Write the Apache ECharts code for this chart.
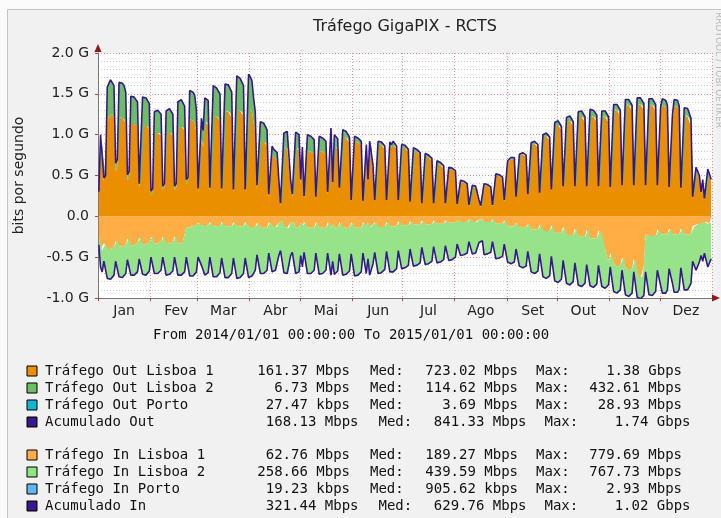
<!DOCTYPE html>
<html>
<head>
<meta charset="utf-8">
<title>Tráfego GigaPIX - RCTS</title>
<script src="https://cdn.jsdelivr.net/npm/echarts@6/dist/echarts.min.js"></script>
<style>
    html, body { margin: 0; padding: 0; background: #fbfbfb; }
    #chart { width: 721px; height: 518px; }
</style>
</head>
<body>
<div id="chart"></div>
<script>
// nomes dos meses no eixo X
const monthNames = ['Jan', 'Fev', 'Mar', 'Abr', 'Mai', 'Jun', 'Jul', 'Ago', 'Set', 'Out', 'Nov', 'Dez'];
const yTicks = [-1, -0.5, 0, 0.5, 1, 1.5, 2];

// valores diarios em Gbps, 2014-01-01 .. 2014-12-31 (uma semana por linha, seg..dom)
const outLisboa1 = [0.27,0.88,0.88,0.43,0.45,
    1.18,1.22,1.24,1.25,1.20,0.55,0.60,
    1.21,1.22,1.21,1.19,1.14,0.44,0.48,
    1.13,1.13,1.13,1.12,1.10,0.34,0.36,
    1.11,1.11,1.11,1.10,1.07,0.26,0.29,
    1.01,1.01,1.02,1.02,0.99,0.32,0.35,
    1.01,1.02,1.03,1.02,0.99,0.32,0.35,
    1.08,1.09,1.10,1.09,1.05,0.39,0.42,
    1.19,1.18,1.17,1.14,1.02,0.29,0.31,
    0.95,0.85,1.15,1.16,1.12,0.30,0.32,
    1.24,1.23,1.22,1.21,1.17,0.29,0.31,
    1.28,1.29,1.28,1.27,1.21,0.28,0.30,
    1.31,1.30,1.29,1.28,1.23,0.28,0.30,
    1.33,1.31,1.28,1.15,1.03,0.33,0.34,
    0.93,0.92,0.92,0.90,0.86,0.23,0.24,
    0.76,0.72,0.70,0.69,0.40,0.13,0.14,
    0.82,0.84,0.84,0.83,0.39,0.24,0.25,
    0.83,0.84,0.81,0.39,0.70,0.22,0.23,
    0.80,0.79,0.79,0.78,0.76,0.21,0.22,
    0.80,0.79,0.79,0.78,0.76,0.27,0.28,
    0.93,0.38,0.86,0.85,0.82,0.32,0.33,
    0.98,0.97,0.96,0.95,0.90,0.18,0.19,
    0.92,0.91,0.90,0.89,0.87,0.17,0.18,
    0.83,0.42,0.87,0.88,0.58,0.18,0.18,
    0.88,0.88,0.87,0.86,0.82,0.18,0.19,
    0.87,0.84,0.88,0.87,0.82,0.18,0.18,
    0.85,0.84,0.84,0.83,0.79,0.16,0.17,
    0.81,0.80,0.79,0.78,0.75,0.14,0.15,
    0.74,0.73,0.72,0.71,0.68,0.14,0.14,
    0.65,0.64,0.63,0.62,0.59,0.14,0.14,
    0.58,0.58,0.57,0.56,0.54,0.13,0.13,
    0.42,0.41,0.41,0.40,0.38,0.12,0.12,
    0.36,0.36,0.35,0.34,0.18,0.11,0.12,
    0.38,0.38,0.37,0.36,0.34,0.12,0.13,
    0.50,0.50,0.49,0.48,0.46,0.18,0.18,
    0.66,0.68,0.70,0.72,0.70,0.22,0.23,
    0.74,0.75,0.76,0.77,0.73,0.25,0.26,
    0.87,0.88,0.89,0.89,0.85,0.27,0.28,
    0.96,0.97,0.98,0.98,0.93,0.31,0.32,
    1.10,1.11,1.12,1.11,1.05,0.35,0.36,
    1.15,1.16,1.17,1.16,1.10,0.35,0.36,
    1.21,1.22,1.22,1.21,1.15,0.35,0.36,
    1.23,1.23,1.22,1.21,1.16,0.35,0.36,
    1.22,1.23,1.22,1.21,1.15,0.34,0.35,
    1.30,1.31,1.30,1.29,1.23,0.36,0.37,
    1.36,1.37,1.36,1.35,1.29,0.36,0.37,
    1.37,1.38,1.37,1.36,1.30,0.36,0.38,
    1.36,1.37,1.36,1.35,1.29,0.36,0.37,
    1.27,1.36,1.36,1.34,1.28,0.34,0.35,
    1.17,1.35,1.36,1.34,1.27,0.33,0.34,
    1.23,1.24,1.22,1.20,1.10,0.22,0.23,
    0.58,0.58,0.48,0.28,0.43,0.20,0.20,
    0.56,0.55,0.43];

const outLisboa2 = [0.03,0.12,0.14,0.04,0.05,
    0.40,0.41,0.43,0.43,0.40,0.10,0.10,
    0.43,0.43,0.42,0.41,0.38,0.07,0.07,
    0.34,0.34,0.33,0.33,0.30,0.06,0.06,
    0.35,0.35,0.34,0.34,0.31,0.05,0.05,
    0.27,0.28,0.28,0.28,0.26,0.05,0.05,
    0.28,0.29,0.29,0.29,0.26,0.05,0.05,
    0.32,0.32,0.33,0.33,0.30,0.06,0.06,
    0.35,0.35,0.35,0.34,0.28,0.05,0.05,
    0.25,0.20,0.30,0.31,0.30,0.05,0.05,
    0.36,0.35,0.35,0.35,0.33,0.05,0.05,
    0.34,0.34,0.33,0.33,0.31,0.05,0.05,
    0.41,0.40,0.40,0.40,0.37,0.05,0.05,
    0.41,0.40,0.38,0.30,0.25,0.05,0.05,
    0.23,0.23,0.22,0.22,0.20,0.04,0.04,
    0.10,0.10,0.10,0.09,0.05,0.03,0.03,
    0.20,0.20,0.20,0.20,0.06,0.03,0.03,
    0.20,0.20,0.19,0.06,0.15,0.03,0.03,
    0.20,0.20,0.19,0.19,0.18,0.03,0.03,
    0.18,0.18,0.17,0.17,0.16,0.03,0.03,
    0.15,0.04,0.14,0.14,0.13,0.03,0.03,
    0.08,0.08,0.08,0.07,0.07,0.02,0.02,
    0.06,0.06,0.06,0.06,0.05,0.02,0.02,
    0.05,0.03,0.05,0.05,0.04,0.02,0.02,
    0.04,0.04,0.04,0.04,0.04,0.02,0.02,
    0.04,0.04,0.04,0.04,0.04,0.02,0.02,
    0.03,0.03,0.03,0.03,0.03,0.02,0.02,
    0.03,0.03,0.03,0.03,0.03,0.02,0.02,
    0.03,0.03,0.03,0.03,0.03,0.02,0.02,
    0.03,0.03,0.03,0.03,0.03,0.02,0.02,
    0.02,0.02,0.02,0.02,0.02,0.02,0.02,
    0.02,0.02,0.02,0.02,0.02,0.02,0.02,
    0.02,0.02,0.02,0.02,0.02,0.02,0.02,
    0.02,0.02,0.02,0.02,0.02,0.02,0.02,
    0.02,0.02,0.02,0.02,0.02,0.02,0.02,
    0.02,0.02,0.02,0.02,0.02,0.02,0.02,
    0.02,0.02,0.02,0.02,0.02,0.02,0.02,
    0.03,0.03,0.03,0.03,0.03,0.02,0.02,
    0.04,0.04,0.04,0.04,0.04,0.02,0.02,
    0.05,0.05,0.05,0.05,0.05,0.02,0.02,
    0.06,0.06,0.06,0.06,0.06,0.02,0.02,
    0.07,0.07,0.07,0.07,0.07,0.02,0.02,
    0.08,0.08,0.08,0.08,0.08,0.02,0.02,
    0.07,0.07,0.07,0.07,0.07,0.02,0.02,
    0.07,0.07,0.07,0.07,0.07,0.02,0.02,
    0.07,0.07,0.07,0.07,0.07,0.02,0.02,
    0.08,0.08,0.08,0.08,0.08,0.02,0.02,
    0.08,0.08,0.08,0.08,0.08,0.02,0.02,
    0.08,0.08,0.08,0.08,0.08,0.02,0.02,
    0.08,0.08,0.08,0.08,0.08,0.02,0.02,
    0.10,0.10,0.10,0.10,0.10,0.02,0.02,
    0.02,0.02,0.02,0.02,0.02,0.02,0.02,
    0.02,0.02,0.02];

const inLisboa1 = [-0.25,-0.40,-0.42,-0.33,-0.33,
    -0.40,-0.41,-0.40,-0.40,-0.38,-0.30,-0.28,
    -0.37,-0.38,-0.37,-0.37,-0.35,-0.27,-0.26,
    -0.36,-0.36,-0.35,-0.35,-0.33,-0.26,-0.25,
    -0.35,-0.35,-0.34,-0.34,-0.32,-0.25,-0.24,
    -0.34,-0.34,-0.33,-0.33,-0.31,-0.25,-0.24,
    -0.34,-0.34,-0.33,-0.33,-0.31,-0.25,-0.24,
    -0.34,-0.34,-0.33,-0.30,-0.22,-0.14,-0.12,
    -0.13,-0.13,-0.12,-0.12,-0.11,-0.08,-0.08,
    -0.11,-0.10,-0.12,-0.12,-0.11,-0.07,-0.07,
    -0.12,-0.12,-0.12,-0.12,-0.12,-0.07,-0.07,
    -0.12,-0.12,-0.12,-0.12,-0.12,-0.07,-0.07,
    -0.12,-0.12,-0.12,-0.12,-0.12,-0.07,-0.07,
    -0.13,-0.13,-0.13,-0.13,-0.13,-0.08,-0.08,
    -0.14,-0.14,-0.14,-0.14,-0.14,-0.07,-0.07,
    -0.13,-0.13,-0.13,-0.13,-0.08,-0.06,-0.06,
    -0.14,-0.14,-0.14,-0.14,-0.08,-0.07,-0.07,
    -0.14,-0.14,-0.14,-0.08,-0.12,-0.07,-0.07,
    -0.14,-0.14,-0.14,-0.14,-0.14,-0.07,-0.07,
    -0.14,-0.14,-0.14,-0.14,-0.14,-0.07,-0.07,
    -0.14,-0.09,-0.14,-0.14,-0.13,-0.07,-0.07,
    -0.14,-0.14,-0.14,-0.14,-0.14,-0.07,-0.07,
    -0.14,-0.14,-0.14,-0.14,-0.14,-0.07,-0.07,
    -0.13,-0.08,-0.13,-0.13,-0.10,-0.07,-0.07,
    -0.13,-0.13,-0.13,-0.13,-0.13,-0.07,-0.07,
    -0.12,-0.12,-0.12,-0.12,-0.12,-0.06,-0.06,
    -0.11,-0.11,-0.11,-0.11,-0.11,-0.06,-0.06,
    -0.10,-0.10,-0.10,-0.10,-0.10,-0.05,-0.05,
    -0.10,-0.10,-0.10,-0.10,-0.10,-0.05,-0.05,
    -0.09,-0.09,-0.09,-0.09,-0.09,-0.05,-0.05,
    -0.08,-0.08,-0.08,-0.08,-0.08,-0.05,-0.05,
    -0.07,-0.07,-0.07,-0.07,-0.07,-0.04,-0.04,
    -0.07,-0.07,-0.07,-0.07,-0.04,-0.04,-0.04,
    -0.07,-0.07,-0.07,-0.07,-0.07,-0.04,-0.04,
    -0.09,-0.09,-0.09,-0.09,-0.09,-0.05,-0.05,
    -0.12,-0.12,-0.12,-0.12,-0.12,-0.08,-0.08,
    -0.14,-0.14,-0.14,-0.14,-0.14,-0.09,-0.09,
    -0.16,-0.16,-0.16,-0.16,-0.16,-0.10,-0.10,
    -0.18,-0.18,-0.18,-0.18,-0.18,-0.11,-0.11,
    -0.20,-0.20,-0.20,-0.20,-0.20,-0.13,-0.13,
    -0.23,-0.23,-0.23,-0.23,-0.23,-0.15,-0.15,
    -0.25,-0.25,-0.25,-0.25,-0.25,-0.16,-0.16,
    -0.27,-0.27,-0.27,-0.27,-0.27,-0.17,-0.17,
    -0.28,-0.30,-0.40,-0.50,-0.55,-0.45,-0.45,
    -0.58,-0.60,-0.62,-0.62,-0.60,-0.50,-0.50,
    -0.62,-0.64,-0.66,-0.66,-0.64,-0.52,-0.52,
    -0.72,-0.74,-0.76,-0.74,-0.60,-0.22,-0.22,
    -0.24,-0.24,-0.24,-0.24,-0.24,-0.16,-0.16,
    -0.22,-0.22,-0.22,-0.22,-0.22,-0.15,-0.15,
    -0.22,-0.22,-0.22,-0.22,-0.22,-0.15,-0.15,
    -0.22,-0.22,-0.22,-0.22,-0.22,-0.12,-0.12,
    -0.10,-0.10,-0.10,-0.08,-0.08,-0.07,-0.07,
    -0.09,-0.09,-0.08];

const inLisboa2 = [-0.10,-0.22,-0.26,-0.22,-0.22,
    -0.36,-0.37,-0.37,-0.36,-0.34,-0.25,-0.25,
    -0.37,-0.38,-0.38,-0.37,-0.35,-0.26,-0.26,
    -0.36,-0.37,-0.37,-0.36,-0.35,-0.26,-0.25,
    -0.36,-0.37,-0.38,-0.36,-0.35,-0.25,-0.25,
    -0.36,-0.37,-0.37,-0.36,-0.35,-0.25,-0.24,
    -0.38,-0.38,-0.38,-0.37,-0.36,-0.25,-0.25,
    -0.38,-0.39,-0.39,-0.41,-0.46,-0.36,-0.37,
    -0.60,-0.61,-0.61,-0.60,-0.57,-0.42,-0.41,
    -0.49,-0.48,-0.60,-0.61,-0.58,-0.43,-0.42,
    -0.62,-0.63,-0.62,-0.61,-0.57,-0.44,-0.43,
    -0.63,-0.64,-0.63,-0.62,-0.58,-0.44,-0.43,
    -0.64,-0.64,-0.63,-0.62,-0.58,-0.44,-0.43,
    -0.62,-0.61,-0.60,-0.57,-0.53,-0.39,-0.38,
    -0.56,-0.57,-0.56,-0.55,-0.52,-0.38,-0.37,
    -0.55,-0.54,-0.53,-0.52,-0.40,-0.36,-0.35,
    -0.55,-0.56,-0.56,-0.55,-0.40,-0.37,-0.36,
    -0.56,-0.56,-0.54,-0.40,-0.50,-0.37,-0.36,
    -0.56,-0.57,-0.56,-0.55,-0.52,-0.38,-0.37,
    -0.57,-0.57,-0.56,-0.55,-0.52,-0.38,-0.37,
    -0.58,-0.46,-0.57,-0.56,-0.54,-0.39,-0.38,
    -0.58,-0.58,-0.57,-0.56,-0.53,-0.39,-0.38,
    -0.59,-0.59,-0.58,-0.57,-0.54,-0.38,-0.37,
    -0.57,-0.44,-0.59,-0.59,-0.48,-0.37,-0.37,
    -0.57,-0.57,-0.56,-0.55,-0.52,-0.36,-0.35,
    -0.56,-0.54,-0.56,-0.55,-0.52,-0.36,-0.35,
    -0.53,-0.53,-0.52,-0.51,-0.49,-0.34,-0.33,
    -0.51,-0.51,-0.50,-0.49,-0.47,-0.33,-0.32,
    -0.49,-0.49,-0.48,-0.47,-0.45,-0.32,-0.31,
    -0.48,-0.48,-0.47,-0.46,-0.44,-0.31,-0.30,
    -0.46,-0.46,-0.45,-0.44,-0.42,-0.29,-0.28,
    -0.41,-0.41,-0.40,-0.39,-0.38,-0.27,-0.26,
    -0.39,-0.39,-0.38,-0.37,-0.28,-0.26,-0.26,
    -0.40,-0.40,-0.39,-0.38,-0.37,-0.27,-0.27,
    -0.43,-0.43,-0.42,-0.41,-0.40,-0.29,-0.29,
    -0.44,-0.45,-0.46,-0.46,-0.44,-0.32,-0.32,
    -0.47,-0.48,-0.49,-0.49,-0.47,-0.34,-0.34,
    -0.52,-0.53,-0.54,-0.54,-0.51,-0.36,-0.36,
    -0.56,-0.57,-0.58,-0.58,-0.55,-0.38,-0.38,
    -0.59,-0.60,-0.61,-0.61,-0.57,-0.41,-0.41,
    -0.59,-0.60,-0.61,-0.61,-0.57,-0.42,-0.42,
    -0.59,-0.60,-0.61,-0.61,-0.57,-0.43,-0.43,
    -0.58,-0.59,-0.60,-0.60,-0.56,-0.43,-0.43,
    -0.58,-0.57,-0.48,-0.38,-0.29,-0.17,-0.17,
    -0.34,-0.33,-0.32,-0.32,-0.30,-0.16,-0.16,
    -0.34,-0.33,-0.32,-0.32,-0.30,-0.16,-0.16,
    -0.27,-0.26,-0.25,-0.26,-0.37,-0.46,-0.46,
    -0.72,-0.73,-0.73,-0.72,-0.68,-0.50,-0.50,
    -0.63,-0.72,-0.73,-0.72,-0.68,-0.49,-0.49,
    -0.60,-0.71,-0.72,-0.71,-0.67,-0.48,-0.48,
    -0.68,-0.69,-0.68,-0.66,-0.60,-0.43,-0.42,
    -0.56,-0.54,-0.46,-0.40,-0.47,-0.38,-0.37,
    -0.53,-0.53,-0.44];

// legenda: nome, actual, media, maximo
const legendOut = [
    ['Tráfego Out Lisboa 1', '161.37 Mbps', '723.02 Mbps', '1.38 Gbps'],
    ['Tráfego Out Lisboa 2', '6.73 Mbps', '114.62 Mbps', '432.61 Mbps'],
    ['Tráfego Out Porto', '27.47 kbps', '3.69 Mbps', '28.93 Mbps'],
    ['Acumulado Out', '168.13 Mbps', '841.33 Mbps', '1.74 Gbps']
];
const legendIn = [
    ['Tráfego In Lisboa 1', '62.76 Mbps', '189.27 Mbps', '779.69 Mbps'],
    ['Tráfego In Lisboa 2', '258.66 Mbps', '439.59 Mbps', '767.73 Mbps'],
    ['Tráfego In Porto', '19.23 kbps', '905.62 kbps', '2.93 Mbps'],
    ['Acumulado In', '321.44 Mbps', '629.76 Mbps', '1.02 Gbps']
];
const colorsOut = ['#EA8F00', '#6DBE63', '#12B5D8', '#35198C'];
const colorsIn = ['#FFAD45', '#96E38A', '#5DB8F2', '#35198C'];

// eixo X: um dia por categoria
const days = [];
for (let t = Date.UTC(2014, 0, 1); t < Date.UTC(2015, 0, 1); t += 86400000) {
    days.push(new Date(t).toISOString().slice(0, 10));
}
const dayOfMonth = v => +v.slice(8, 10);

// acumulados = soma das parcelas (CDEF)
const acumOut = outLisboa1.map((v, i) => +(v + outLisboa2[i]).toFixed(2));
const acumIn = inLisboa1.map((v, i) => +(v + inLisboa2[i]).toFixed(2));

const mono = 'DejaVu Sans Mono';
const sans = 'DejaVu Sans';

function legendRows(rows, colors, y0) {
    let els = [];
    rows.forEach((r, i) => {
        let y = y0 + i * 17;
        let s = i === 3 ? 8.5 : 0;
        els.push({ type: 'rect', shape: { x: 27, y: y - 5, width: 10, height: 10 },
            style: { fill: colors[i], stroke: '#000', lineWidth: 1 } });
        const txt = (x, text, align) => ({ type: 'text', x: x, y: y,
            style: { text: text, font: '14px "' + mono + '"', fill: '#111', align: align, verticalAlign: 'middle' } });
        els.push(txt(45, r[0], 'left'));
        els.push(txt(350 + s, r[1], 'right'));
        els.push(txt(370 + s, 'Med:', 'left'));
        els.push(txt(518 + s, r[2], 'right'));
        els.push(txt(536 + s, 'Max:', 'left'));
        els.push(txt(682 + s, r[3], 'right'));
    });
    return els;
}

const chart = echarts.init(document.getElementById('chart'));
const areaSeries = (name, data, stack, color) => ({
    name: name, type: 'line', stack: stack, data: data, symbol: 'none', silent: true,
    lineStyle: { width: 0, opacity: 0 }, areaStyle: { color: color, opacity: 1 }, z: 2
});
const lineSeries = (name, data) => ({
    name: name, type: 'line', data: data, symbol: 'none', silent: true,
    lineStyle: { width: 1.6, color: '#35198C' }, z: 4
});

chart.setOption({
    animation: false,
    backgroundColor: '#f1f1f1',
    grid: { left: 98, right: 9, top: 53, bottom: 220, show: true, backgroundColor: '#fff', borderWidth: 0 },
    xAxis: {
        type: 'category', data: days, boundaryGap: true,
        axisLine: { onZero: false, lineStyle: { color: '#777', width: 1 } },
        axisTick: { show: true, interval: (i, v) => dayOfMonth(v) === 1, length: 3, lineStyle: { color: '#c04040' } },
        axisLabel: { interval: (i, v) => dayOfMonth(v) === 16, formatter: v => monthNames[+v.slice(5, 7) - 1],
            color: '#222', fontFamily: sans, fontSize: 14, margin: 6 },
        splitLine: { show: true, interval: (i, v) => dayOfMonth(v) === 1,
            lineStyle: { color: 'rgba(220,80,80,0.6)', type: [1, 2], width: 1 } }
    },
    yAxis: {
        type: 'value', min: yTicks[0], max: yTicks[yTicks.length - 1], interval: 0.5,
        name: 'bits por segundo', nameLocation: 'middle', nameGap: 72,
        nameTextStyle: { color: '#222', fontFamily: sans, fontSize: 14 },
        axisLine: { show: true, onZero: false, lineStyle: { color: '#777', width: 1 } },
        axisTick: { show: true, length: 3, lineStyle: { color: '#c04040' } },
        axisLabel: { formatter: v => v === 0 ? '0.0' : v.toFixed(1) + ' G', color: '#222',
            fontFamily: sans, fontSize: 14, margin: 9 },
        splitLine: { lineStyle: { color: 'rgba(220,80,80,0.6)', type: [1, 2], width: 1 } },
        minorTick: { show: true, splitNumber: 5, length: 0 },
        minorSplitLine: { show: true, lineStyle: { color: 'rgba(140,140,140,0.45)', type: [1, 2], width: 1 } }
    },
    series: [
        areaSeries('Tráfego Out Lisboa 1', outLisboa1, 'out', colorsOut[0]),
        areaSeries('Tráfego Out Lisboa 2', outLisboa2, 'out', colorsOut[1]),
        areaSeries('Tráfego In Lisboa 1', inLisboa1, 'in', colorsIn[0]),
        areaSeries('Tráfego In Lisboa 2', inLisboa2, 'in', colorsIn[1]),
        lineSeries('Acumulado Out', acumOut),
        lineSeries('Acumulado In', acumIn)
    ],
    graphic: [
        { type: 'rect', shape: { x: 0, y: 0, width: 721, height: 9 }, style: { fill: '#fbfbfb' }, z: -1 },
        { type: 'rect', shape: { x: 0, y: 0, width: 7, height: 518 }, style: { fill: '#fbfbfb' }, z: -1 },
        { type: 'line', shape: { x1: 7.5, y1: 9.5, x2: 721, y2: 9.5 }, style: { stroke: '#c4c4c4', lineWidth: 1 } },
        { type: 'line', shape: { x1: 7.5, y1: 9.5, x2: 7.5, y2: 518 }, style: { stroke: '#c4c4c4', lineWidth: 1 } },
        { type: 'text', x: 405, y: 27, style: { text: 'Tráfego GigaPIX - RCTS', font: '16px "' + sans + '"',
            fill: '#222', align: 'center', verticalAlign: 'middle' } },
        { type: 'text', x: 718, y: 12, rotation: -Math.PI / 2, style: { text: 'RRDTOOL / TOBI OETIKER',
            font: '9px "' + sans + '"', fill: '#b8b8b8', align: 'left', verticalAlign: 'middle' } },
        { type: 'polygon', shape: { points: [[98, 44], [94.5, 52], [101.5, 52]] }, style: { fill: '#8b1a1a' }, z: 10 },
        { type: 'polygon', shape: { points: [[720, 298], [712, 294.5], [712, 301.5]] }, style: { fill: '#8b1a1a' }, z: 10 },
        { type: 'text', x: 351, y: 335, style: { text: 'From 2014/01/01 00:00:00 To 2015/01/01 00:00:00',
            font: '14px "' + mono + '"', fill: '#111', align: 'center', verticalAlign: 'middle' } }
    ].concat(legendRows(legendOut, colorsOut, 371), legendRows(legendIn, colorsIn, 455))
});
</script>
</body>
</html>
